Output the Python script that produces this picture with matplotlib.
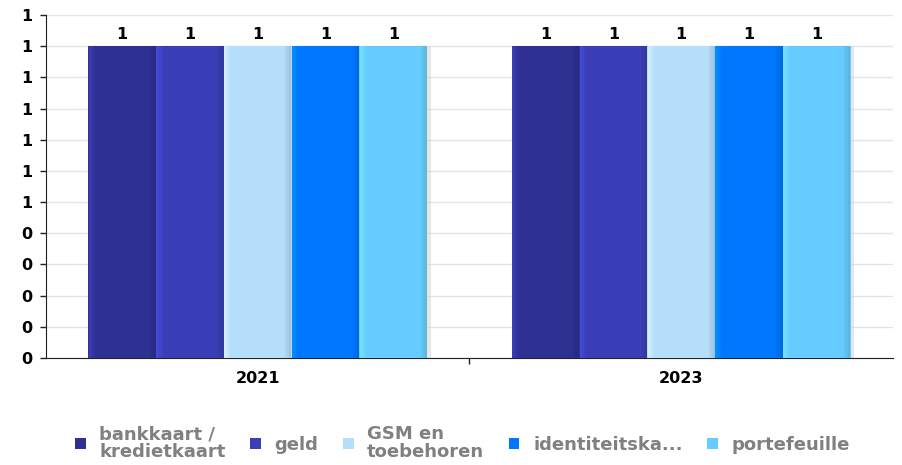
import numpy as np
import matplotlib.pyplot as plt
from matplotlib.ticker import FuncFormatter, FixedLocator

# data
years = ['2021', '2023']
series = ['bankkaart /\nkredietkaart', 'geld', 'GSM en\ntoebehoren',
          'identiteitska...', 'portefeuille']
values = [
    [1, 1],  # bankkaart / kredietkaart
    [1, 1],  # geld
    [1, 1],  # GSM en toebehoren
    [1, 1],  # identiteitskaart
    [1, 1],  # portefeuille
]
colors = ['#2E3192', '#3A3FB8', '#B5DEFB', '#0077FF', '#66CCFF']
light = ['#4448D8', '#4B55FF', '#F0FFFF', '#00A0FF', '#8AF4FF']
dark = ['#252878', '#2F3394', '#93B4CC', '#0060D0', '#55AACC']

plt.rcParams['font.family'] = 'DejaVu Sans'
fig = plt.figure(figsize=(9.03, 4.65), dpi=100)
ax = fig.add_axes([46 / 903, 1 - 358 / 465, 847 / 903, 343 / 465])

x = np.arange(len(years))
group_w = 0.8
bw = group_w / len(series)

for i, (name, vals) in enumerate(zip(series, values)):
    pos = x - group_w / 2 + bw * (i + 0.5)
    # shadow
    ax.bar(pos + bw * 0.05, vals, bw, color='#D0D0D0', alpha=0.5, zorder=2)
    ax.bar(pos, vals, bw, color=colors[i], label=name, zorder=3, linewidth=0)
    # soft bevel edges
    for k, a in enumerate([0.5, 0.3, 0.15]):
        ax.bar(pos - bw * (0.48 - 0.03 * k), vals, bw * 0.03, color=light[i], alpha=a, zorder=4, linewidth=0)
        ax.bar(pos + bw * (0.48 - 0.03 * k), vals, bw * 0.03, color=dark[i], alpha=a + 0.1, zorder=4, linewidth=0)
    for p, v in zip(pos, vals):
        ax.text(p, v + 0.012, f'{v:g}', ha='center', va='bottom',
                fontsize=11.5, fontweight='bold', color='black', zorder=5)

ax.set_xlim(-0.5, len(years) - 0.5)
ax.set_ylim(0, 1.1)
ax.yaxis.set_major_locator(FixedLocator(np.round(np.arange(0, 1.11, 0.1), 2)))
ax.yaxis.set_major_formatter(FuncFormatter(lambda v, _: f'{int(np.floor(v + 0.5 + 1e-9))}'))
ax.set_xticks(x)
ax.set_xticklabels(years, fontsize=11.5, fontweight='bold')
ax.set_xticks([0.5], minor=True)
ax.tick_params(axis='x', which='major', length=0, pad=9)
ax.tick_params(axis='x', which='minor', length=4, width=1, color='#222222')
ax.tick_params(axis='y', length=4, width=1, color='#222222', pad=6)
for lab in ax.get_yticklabels():
    lab.set_fontweight('bold')
    lab.set_fontsize(11.5)

ax.grid(axis='y', color='#E4E4E4', linewidth=1, zorder=0)
ax.set_axisbelow(True)
for s in ['top', 'right']:
    ax.spines[s].set_visible(False)
ax.spines['left'].set_color('#222222')
ax.spines['bottom'].set_color('#222222')
ax.spines['bottom'].set_zorder(1)

leg = fig.legend(loc='center', bbox_to_anchor=(0.512, 1 - 443 / 465), ncol=5,
                 frameon=False, handlelength=0.6, handleheight=0.6,
                 handletextpad=0.75, columnspacing=1.35,
                 prop={'weight': 'bold', 'size': 13})
for t in leg.get_texts():
    t.set_color('#808080')
    t.set_linespacing(1.0)
for h in leg.legend_handles:
    h.set_alpha(1)

fig.savefig('out.png', dpi=100)
